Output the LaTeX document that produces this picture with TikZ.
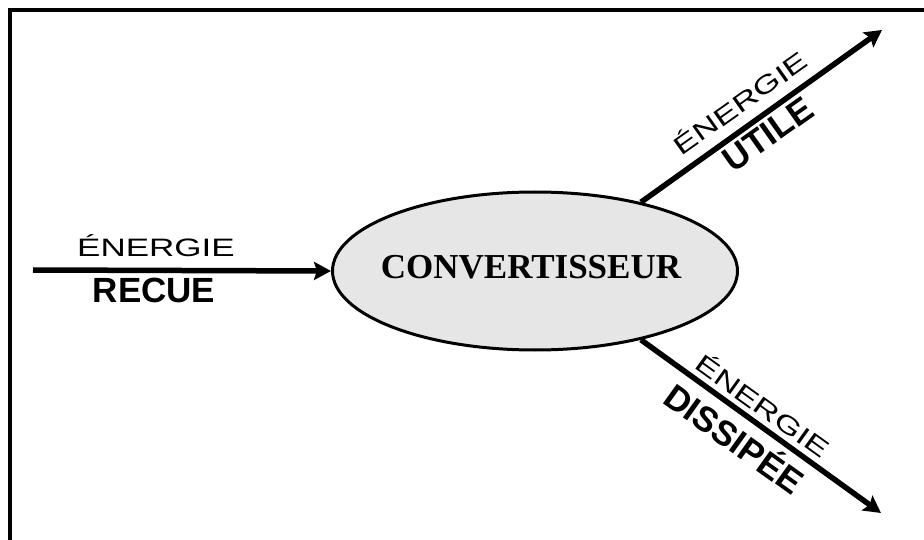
\documentclass[tikz,border=0pt]{standalone}
\usepackage{fontspec}
\setmainfont{Liberation Sans}
\newfontfamily\convfont{Liberation Serif}
\usetikzlibrary{arrows.meta,shapes.geometric}
\definecolor{convfill}{RGB}{230,230,230}
\newcommand{\squat}[1]{\scalebox{1}[0.72]{#1}}
\begin{document}
\begin{tikzpicture}[x=1pt,y=-1pt,
  flow/.style={line width=5.5pt,-{Stealth[length=17pt,width=18pt,inset=3pt]}},
  lbl/.style={inner sep=0pt,font=\fontsize{35}{40}\selectfont},
  lblb/.style={lbl,font=\fontsize{35}{40}\selectfont\bfseries}]
\useasboundingbox (0,0) rectangle (924,540);
% outer frame, open to the right and bottom
\draw[line width=3.5pt] (10,560) -- (10,10) -- (940,10);
% converter
\node[draw,line width=3pt,fill=convfill,ellipse,minimum width=405pt,minimum height=158pt,inner sep=0pt] (conv) at (535,271) {};
\node[inner sep=0pt,font=\convfont\fontsize{35}{40}\selectfont\bfseries] (convtext) at (531,267) {CONVERTISSEUR};
% incoming energy
\coordinate (src) at (33,270);
\draw[flow] (src) -- (conv.west);
\node[lbl,anchor=south] (inA) at (156,257) {\squat{ÉNERGIE}};
\node[lblb,anchor=north] (inB) at (154,278) {RECUE};
% useful energy
\coordinate (utile) at (882,30);
\draw[flow] (conv.33.5) -- (utile);
\node[lbl,rotate=35.3,anchor=south] (utA) at (746,111) {\squat{ÉNERGIE}};
\node[lblb,rotate=35.3,anchor=north] (utB) at (761,124) {UTILE};
% dissipated energy
\coordinate (diss) at (881,513);
\draw[flow] (conv.-33.6) -- (diss);
\node[lbl,rotate=-35.7,anchor=south] (dsA) at (757,414) {\squat{ÉNERGIE}};
\node[lblb,rotate=-35.7,anchor=north] (dsB) at (745,424) {DISSIPÉE};
\end{tikzpicture}
\end{document}
